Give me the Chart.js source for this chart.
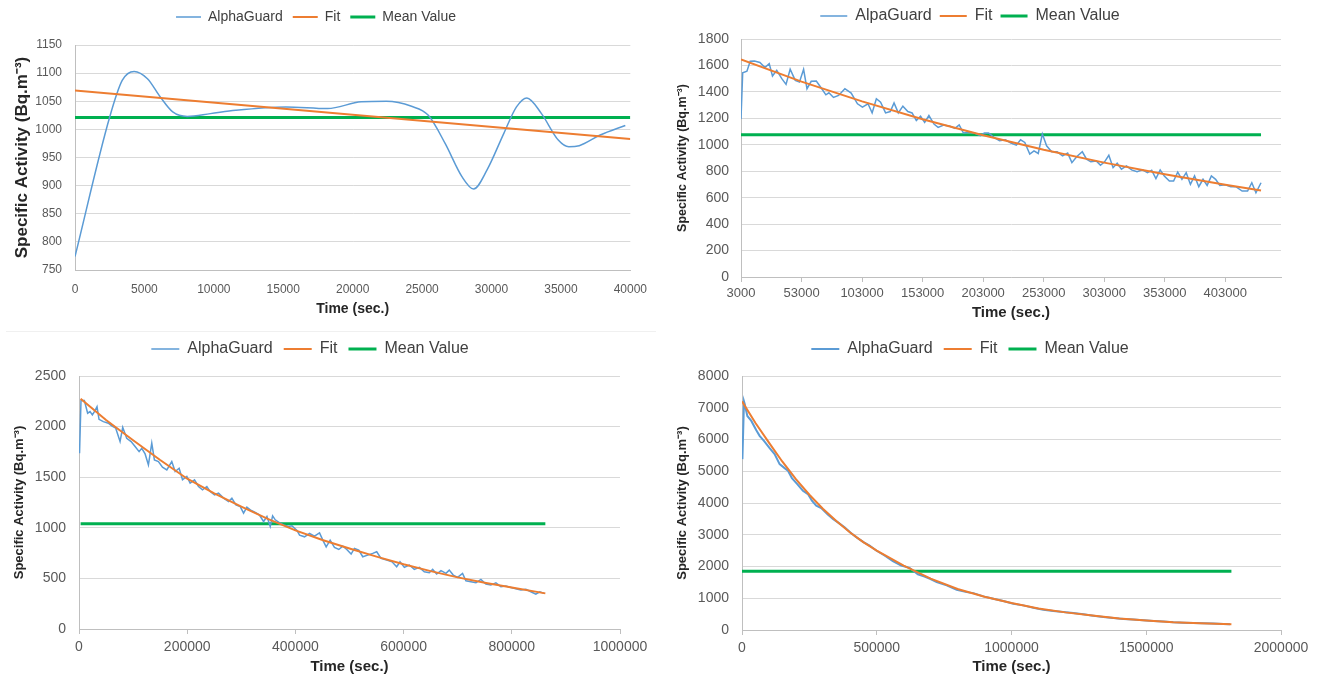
<!DOCTYPE html>
<html>
<head>
<meta charset="utf-8">
<title>AlphaGuard decay curves</title>
<script src="https://cdn.jsdelivr.net/npm/chart.js@4.4.1/dist/chart.umd.min.js"></script>
<style>
  body { margin: 0; background: #fff; }
  #wrap { position: relative; width: 1318px; height: 680px; overflow: hidden; }
  canvas { position: absolute; }
  #sep { position: absolute; left: 6px; top: 331px; width: 650px; height: 1px; background: #f0f0f0; }
</style>
</head>
<body>
<div id="wrap">
  <canvas id="tl" width="659" height="330" style="left:0;top:0"></canvas>
  <canvas id="tr" width="659" height="330" style="left:659px;top:0"></canvas>
  <canvas id="bl" width="659" height="350" style="left:0;top:330px"></canvas>
  <canvas id="br" width="659" height="350" style="left:659px;top:330px"></canvas>
  <div id="sep"></div>
</div>
<script>
// top left: first run, short (40000 s)
const tlTime = [0, 2500, 3400, 4260, 5220, 6130, 7040, 8090, 9750, 11570, 15190, 18200, 20620, 22430, 24240, 25450, 26660, 27870, 28710, 29680, 30890, 31800, 32550, 33600, 34810, 35570, 36320, 37830, 39640];
const tlAlpha = [774, 1022, 1087, 1103, 1090, 1058, 1031, 1023, 1028, 1034, 1040, 1037, 1049, 1050, 1041, 1025, 975, 916, 894, 928, 993, 1040, 1056, 1028, 981, 969, 971, 990, 1007];
const tlFitTime = [0, 40000];
const tlFit = [1069, 983];
const tlMeanTime = [0, 40000];
const tlMean = [1021, 1021];

// top right
const trTime = [3000, 4400, 7900, 10600, 14100, 18600, 22800, 26300, 29000, 32500,
  36700, 40200, 43600, 47800, 51300, 54700, 57500, 61000, 65200, 69700,
  73100, 75600, 79400, 83600, 88800, 94000, 99200, 103300, 107900, 111300,
  114800, 118300, 122400, 126300, 129400, 132900, 136700, 140800, 144300, 147800,
  151300, 154700, 158200, 162400, 165800, 170400, 175600, 179700, 183200, 186700,
  191200, 195700, 200600, 204000, 207500, 212000, 216500, 221400, 225900, 230400,
  233900, 237400, 241500, 245000, 248500, 251900, 255400, 259600, 264100, 268600,
  272800, 276300, 280400, 284900, 288400, 291900, 296400, 299900, 303300, 306800,
  310300, 313700, 317200, 321400, 325600, 330100, 334600, 338700, 342200, 345700,
  349200, 352600, 356800, 360300, 363700, 367200, 370700, 374200, 377600, 381100,
  384600, 388000, 391500, 395000, 398500, 403000, 407500, 411700, 416900, 421400,
  424900, 428300, 432500];
const trAlpha = [1195, 1545, 1556, 1632, 1634, 1622, 1584, 1614, 1520, 1563,
  1500, 1457, 1571, 1487, 1475, 1571, 1424, 1480, 1482, 1424,
  1378, 1393, 1358, 1373, 1424, 1391, 1310, 1284, 1310, 1241,
  1348, 1322, 1241, 1251, 1317, 1241, 1292, 1251, 1241, 1183,
  1216, 1170, 1221, 1157, 1132, 1150, 1140, 1124, 1150, 1089,
  1094, 1089, 1069, 1089, 1089, 1056, 1030, 1038, 1013, 997,
  1038, 1018, 929, 954, 934, 1081, 992, 947, 947, 916,
  937, 865, 911, 947, 891, 871, 878, 845, 871, 921,
  827, 860, 815, 840, 810, 797, 810, 789, 807, 744,
  810, 764, 726, 726, 794, 739, 789, 700, 764, 683,
  739, 693, 764, 739, 693, 698, 683, 683, 650, 650,
  713, 637, 713];
const trFitTime = [3000, 53000, 103000, 153000, 203000, 253000, 303000, 353000, 403000, 432500];
const trFit = [1645, 1478, 1328, 1193, 1072, 963, 865, 777, 698, 655];
const trMeanTime = [3000, 432500];
const trMean = [1076, 1076];
const trTicks = [3000, 53000, 103000, 153000, 203000, 253000, 303000, 353000, 403000];

// bottom left
const blTime = [1000, 3700, 9900, 16000, 20400, 24700, 29600, 33300, 37000, 45000,
  54300, 60500, 67900, 75900, 80800, 88200, 96300, 103700, 111100, 116000,
  122200, 128300, 134500, 139400, 146800, 154300, 162300, 171500, 177700, 185100,
  191300, 199300, 205400, 213500, 220900, 228300, 236300, 242500, 250500, 257900,
  267200, 276400, 282600, 290000, 298000, 304200, 310300, 318400, 325800, 333200,
  341200, 347400, 353500, 357900, 362800, 370200, 378200, 387500, 393600, 402900,
  407700, 416900, 426100, 435300, 444600, 450700, 456900, 464200, 472200, 480200,
  487600, 495000, 503000, 509100, 517100, 524500, 533700, 542900, 550300, 558300,
  568800, 578600, 587200, 593400, 601400, 610600, 619800, 629100, 638300, 647500,
  653700, 661100, 669100, 678300, 684400, 691800, 699800, 709000, 715200, 724400,
  733700, 742900, 752100, 761300, 770600, 779800, 789000, 798300, 807500, 816700,
  826000, 835200, 844400, 851800, 859800];
const blAlpha = [1737, 2257, 2257, 2132, 2148, 2115, 2158, 2197, 2072, 2049,
  2033, 2007, 1984, 1852, 1993, 1885, 1852, 1803, 1753, 1786,
  1730, 1622, 1836, 1671, 1655, 1599, 1572, 1655, 1556, 1589,
  1474, 1507, 1441, 1474, 1408, 1375, 1408, 1358, 1326, 1342,
  1293, 1260, 1293, 1227, 1210, 1145, 1204, 1171, 1151, 1128,
  1062, 1112, 1013, 1118, 1079, 1052, 1029, 1013, 1020, 974,
  928, 911, 944, 918, 950, 878, 812, 878, 806, 786,
  819, 786, 740, 796, 780, 714, 730, 747, 763, 697,
  681, 664, 615, 664, 609, 632, 589, 609, 566, 556,
  589, 543, 576, 550, 582, 533, 510, 550, 477, 467,
  457, 490, 444, 434, 457, 418, 424, 411, 398, 385,
  392, 368, 345, 368, 352];
const blFitTime = [3000, 50000, 100000, 150000, 200000, 250000, 300000, 350000, 400000, 450000, 500000, 550000, 600000, 650000, 700000, 750000, 800000, 862000];
const blFit = [2276, 2065, 1865, 1670, 1485, 1340, 1210, 1085, 975, 880, 795, 715, 640, 572, 510, 458, 410, 352];
const blMeanTime = [3000, 862000];
const blMean = [1040, 1040];

// bottom right
const brTime = [1500, 7400, 9900, 19800, 34600, 53100, 65400, 81500, 102500, 121000,
  139600, 158100, 170500, 185300, 205100, 226100, 244600, 259400, 275500, 294000,
  316300, 337300, 355800, 380600, 405300, 427600, 452300, 473300, 498000, 528900,
  559800, 590800, 621700, 652600, 677300, 697700, 722400, 759500, 796600, 833700,
  858400, 895500, 932600, 969700, 1006800, 1043900, 1081000, 1118100, 1155200, 1192300,
  1229400, 1266500, 1303600, 1340700, 1377900, 1415000, 1452100, 1489200, 1526300, 1563400,
  1600500, 1637600, 1674700, 1711800, 1748900, 1786000, 1810700];
const brAlpha = [5382, 7200, 7128, 6742, 6585, 6292, 6114, 5957, 5727, 5539,
  5225, 5099, 5015, 4785, 4597, 4387, 4282, 4073, 3916, 3843,
  3655, 3498, 3391, 3234, 3046, 2901, 2763, 2660, 2503, 2346,
  2167, 2032, 1959, 1749, 1686, 1614, 1507, 1404, 1269, 1193,
  1162, 1058, 986, 911, 829, 776, 703, 641, 597, 565,
  534, 493, 452, 408, 377, 345, 327, 305, 283, 264,
  242, 232, 220, 210, 201, 188, 179];
const brFitTime = [0, 50000, 100000, 150000, 200000, 250000, 300000, 350000, 400000, 450000, 500000, 600000, 700000, 800000, 900000, 1000000, 1100000, 1200000, 1300000, 1400000, 1500000, 1600000, 1700000, 1816000];
const brFit = [7200, 6520, 5900, 5300, 4750, 4260, 3820, 3430, 3080, 2770, 2500, 2030, 1620, 1290, 1050, 850, 680, 555, 455, 360, 300, 244, 214, 178];
const brMeanTime = [0, 1816000];
const brMean = [1850, 1850];

const FONT = "'Liberation Sans', Arial, sans-serif";
const BLUE = '#5b9bd5';
const ORANGE = '#ed7d31';
const GREEN = '#00b050';
const GRID = '#d9d9d9';
const AXIS = '#bfbfbf';
const TEXT = '#595959';
const Y_TITLE = 'Specific Activity (Bq.m\u207B\u00B3)';

function pts(xs, ys) {
  return xs.map((x, i) => ({ x: x, y: ys[i] }));
}

// force legend box height so the plot area starts where it should
function legendHeight(h) {
  return {
    id: 'legendHeight',
    beforeInit(chart) {
      const fit = chart.legend.fit;
      chart.legend.fit = function () {
        fit.call(this);
        this.height = h;
      };
    }
  };
}

function drawPanel(id, o) {
  new Chart(document.getElementById(id), {
    type: 'line',
    data: {
      datasets: [
        { label: o.alphaName, data: pts(o.time, o.alpha), borderColor: BLUE, backgroundColor: BLUE,
          borderWidth: o.blueW, pointStyle: 'line', order: 1,
          cubicInterpolationMode: o.smooth ? 'monotone' : 'default' },
        { label: 'Fit', data: pts(o.fitTime, o.fit), borderColor: ORANGE, backgroundColor: ORANGE,
          borderWidth: 2, pointStyle: 'line', order: 0 },
        { label: 'Mean Value', data: pts(o.meanTime, o.mean), borderColor: GREEN, backgroundColor: GREEN,
          borderWidth: 3, pointStyle: 'line', order: 2 }
      ]
    },
    options: {
      responsive: false,
      animation: false,
      layout: { padding: { left: 0, right: o.padRight, top: 0, bottom: 0 } },
      elements: { point: { radius: 0, hitRadius: 0 }, line: { tension: 0 } },
      plugins: {
        tooltip: { enabled: false },
        legend: {
          position: 'top',
          labels: {
            usePointStyle: true,
            pointStyleWidth: o.legendW,
            padding: o.legendPad,
            color: '#404040',
            font: { family: FONT, size: o.legendSize },
            sort: (a, b) => a.datasetIndex - b.datasetIndex
          }
        }
      },
      scales: {
        x: {
          type: 'linear',
          min: o.xMin,
          max: o.xMax,
          afterBuildTicks: o.xTicks ? (s) => { s.ticks = o.xTicks.map(v => ({ value: v })); } : undefined,
          ticks: {
            stepSize: o.xStep,
            autoSkip: false,
            maxRotation: 0,
            padding: o.xTickPad,
            color: TEXT,
            font: { family: FONT, size: o.xFont },
            callback: v => String(v)
          },
          grid: { drawOnChartArea: false, drawTicks: o.tickMarks, tickLength: 5, color: AXIS },
          border: { color: AXIS },
          title: {
            display: true,
            text: 'Time (sec.)',
            color: '#262626',
            font: { family: FONT, size: o.xTitleSize, weight: 'bold' },
            padding: { top: 0, bottom: o.xTitlePad }
          },
          afterFit: s => { s.height = o.xHeight; }
        },
        y: {
          min: o.yMin,
          max: o.yMax,
          ticks: {
            stepSize: o.yStep,
            padding: o.yTickPad,
            color: TEXT,
            font: { family: FONT, size: o.yFont },
            callback: v => String(v)
          },
          grid: { color: GRID, drawTicks: false },
          border: { color: AXIS },
          title: {
            display: true,
            text: Y_TITLE,
            color: '#262626',
            font: { family: FONT, size: o.yTitleSize, weight: 'bold' },
            padding: { top: o.yTitlePad, bottom: 0 }
          },
          afterFit: s => { s.width = o.yWidth; }
        }
      }
    },
    plugins: [legendHeight(o.legendH)]
  });
}

drawPanel('tl', {
  alphaName: 'AlphaGuard', time: tlTime, alpha: tlAlpha, fitTime: tlFitTime, fit: tlFit,
  meanTime: tlMeanTime, mean: tlMean, smooth: true, blueW: 1.5,
  padRight: 27, legendH: 45, legendPad: 10, legendSize: 14, legendW: 25,
  xMin: 0, xMax: 40000, xStep: 5000, xFont: 12, xTickPad: 12, tickMarks: false,
  xHeight: 60, xTitleSize: 14, xTitlePad: 12,
  yMin: 750, yMax: 1150, yStep: 50, yFont: 12, yTickPad: 13,
  yWidth: 75, yTitleSize: 17, yTitlePad: 12
});

drawPanel('tr', {
  alphaName: 'AlpaGuard', time: trTime, alpha: trAlpha, fitTime: trFitTime, fit: trFit,
  meanTime: trMeanTime, mean: trMean, smooth: false, blueW: 1.5,
  padRight: 37, legendH: 39, legendPad: 8, legendSize: 16, legendW: 27,
  xMin: 3000, xMax: 449000, xTicks: trTicks, xFont: 13, xTickPad: 4, tickMarks: true,
  xHeight: 53, xTitleSize: 15, xTitlePad: 8,
  yMin: 0, yMax: 1800, yStep: 200, yFont: 14, yTickPad: 12,
  yWidth: 82, yTitleSize: 12.5, yTitlePad: 16
});

drawPanel('bl', {
  alphaName: 'AlphaGuard', time: blTime, alpha: blAlpha, fitTime: blFitTime, fit: blFit,
  meanTime: blMeanTime, mean: blMean, smooth: false, blueW: 1.5,
  padRight: 39, legendH: 46, legendPad: 11, legendSize: 16, legendW: 28,
  xMin: 0, xMax: 1000000, xStep: 200000, xFont: 14, xTickPad: 5, tickMarks: true,
  xHeight: 51, xTitleSize: 15, xTitlePad: 4,
  yMin: 0, yMax: 2500, yStep: 500, yFont: 14, yTickPad: 13,
  yWidth: 79, yTitleSize: 13, yTitlePad: 12
});

drawPanel('br', {
  alphaName: 'AlphaGuard', time: brTime, alpha: brAlpha, fitTime: brFitTime, fit: brFit,
  meanTime: brMeanTime, mean: brMean, smooth: false, blueW: 2,
  padRight: 37, legendH: 46, legendPad: 11, legendSize: 16, legendW: 28,
  xMin: 0, xMax: 2000000, xStep: 500000, xFont: 14, xTickPad: 5, tickMarks: true,
  xHeight: 50, xTitleSize: 15, xTitlePad: 4,
  yMin: 0, yMax: 8000, yStep: 1000, yFont: 14, yTickPad: 13,
  yWidth: 83, yTitleSize: 13, yTitlePad: 16
});
</script>
</body>
</html>
